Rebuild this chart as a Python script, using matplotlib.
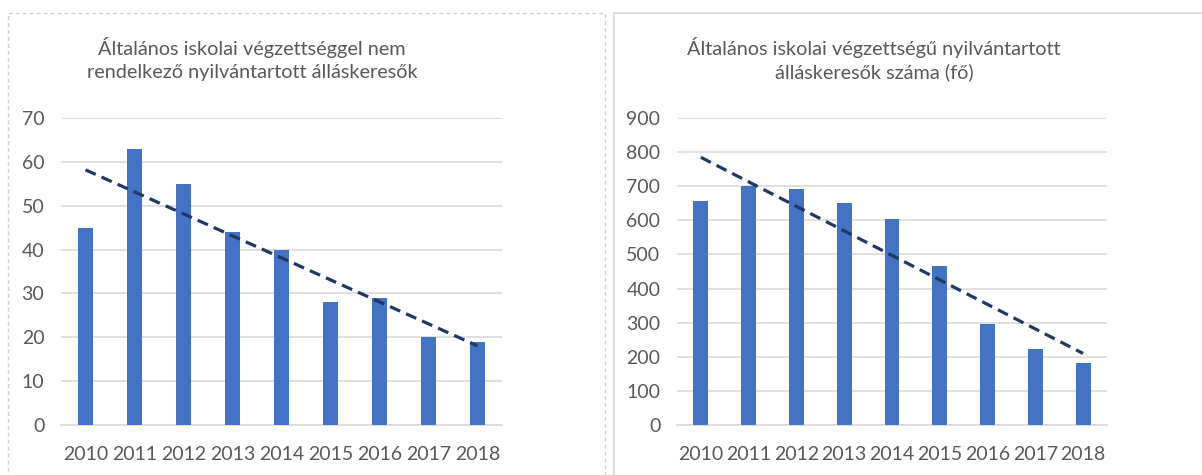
import numpy as np
import matplotlib
matplotlib.use("Agg")
import matplotlib.pyplot as plt
from matplotlib.patches import Rectangle

years = ["2010", "2011", "2012", "2013", "2014", "2015", "2016", "2017", "2018"]
no_primary = [45, 63, 55, 44, 40, 28, 29, 20, 19]
primary = [657, 701, 693, 652, 604, 467, 296, 222, 183]

title_left = "Általános iskolai végzettséggel nem\nrendelkező nyilvántartott álláskeresők"
title_right = "Általános iskolai végzettségű nyilvántartott\nálláskeresők száma (fő)"

BAR = "#4472C4"
TREND = "#1F3864"
GRID = "#D9D9D9"
TEXT = "#595959"

plt.rcParams["font.family"] = ["Lato", "DejaVu Sans"]

W, H = 1202, 475
fig = plt.figure(figsize=(W / 100, H / 100), dpi=100)


def px_axes(x0, x1, y0, y1):
    return fig.add_axes([x0 / W, 1 - y1 / H, (x1 - x0) / W, (y1 - y0) / H])


def draw_panel(ax, values, ymax, step, title, title_x):
    x = np.arange(len(values))
    ax.bar(x, values, width=0.31, color=BAR, zorder=3)
    # linear trend line
    k, b = np.polyfit(x, values, 1)
    ax.plot(x, k * x + b, color=TREND, lw=2.3, ls=(0, (3.5, 2.0)), zorder=4,
            solid_capstyle="butt")
    ax.set_xlim(-0.5, len(values) - 0.5)
    ax.set_ylim(0, ymax)
    ax.set_yticks(np.arange(0, ymax + 1, step))
    ax.set_xticks(x)
    ax.set_xticklabels(years)
    ax.yaxis.grid(True, color=GRID, lw=1.2, zorder=0)
    for s in ["top", "right", "left"]:
        ax.spines[s].set_visible(False)
    ax.spines["bottom"].set_color(GRID)
    ax.spines["bottom"].set_linewidth(1.2)
    ax.tick_params(length=0, colors=TEXT, labelsize=14)
    ax.tick_params(axis="x", pad=15)
    ax.tick_params(axis="y", pad=12)
    fig.text(title_x / W, 1 - 59 / H, title, ha="center", va="center",
             color=TEXT, fontsize=14.3, linespacing=1.4)


# panel borders
fig.patches.append(Rectangle((8 / W, -0.1), (605 - 8) / W, 1.1 - 13 / H,
                             transform=fig.transFigure, fill=False,
                             ec="#D0D0D0", lw=1, ls=(0, (3, 2))))
fig.patches.append(Rectangle((614 / W, -0.1), 0.6, 1.1 - 13 / H,
                             transform=fig.transFigure, fill=False,
                             ec="#D9D9D9", lw=1.2))

ax1 = px_axes(61, 502, 118, 425)
draw_panel(ax1, no_primary, 70, 10, title_left, 252)

ax2 = px_axes(677, 1107, 118, 425)
draw_panel(ax2, primary, 900, 100, title_right, 874)

fig.savefig("out.png", dpi=100)
